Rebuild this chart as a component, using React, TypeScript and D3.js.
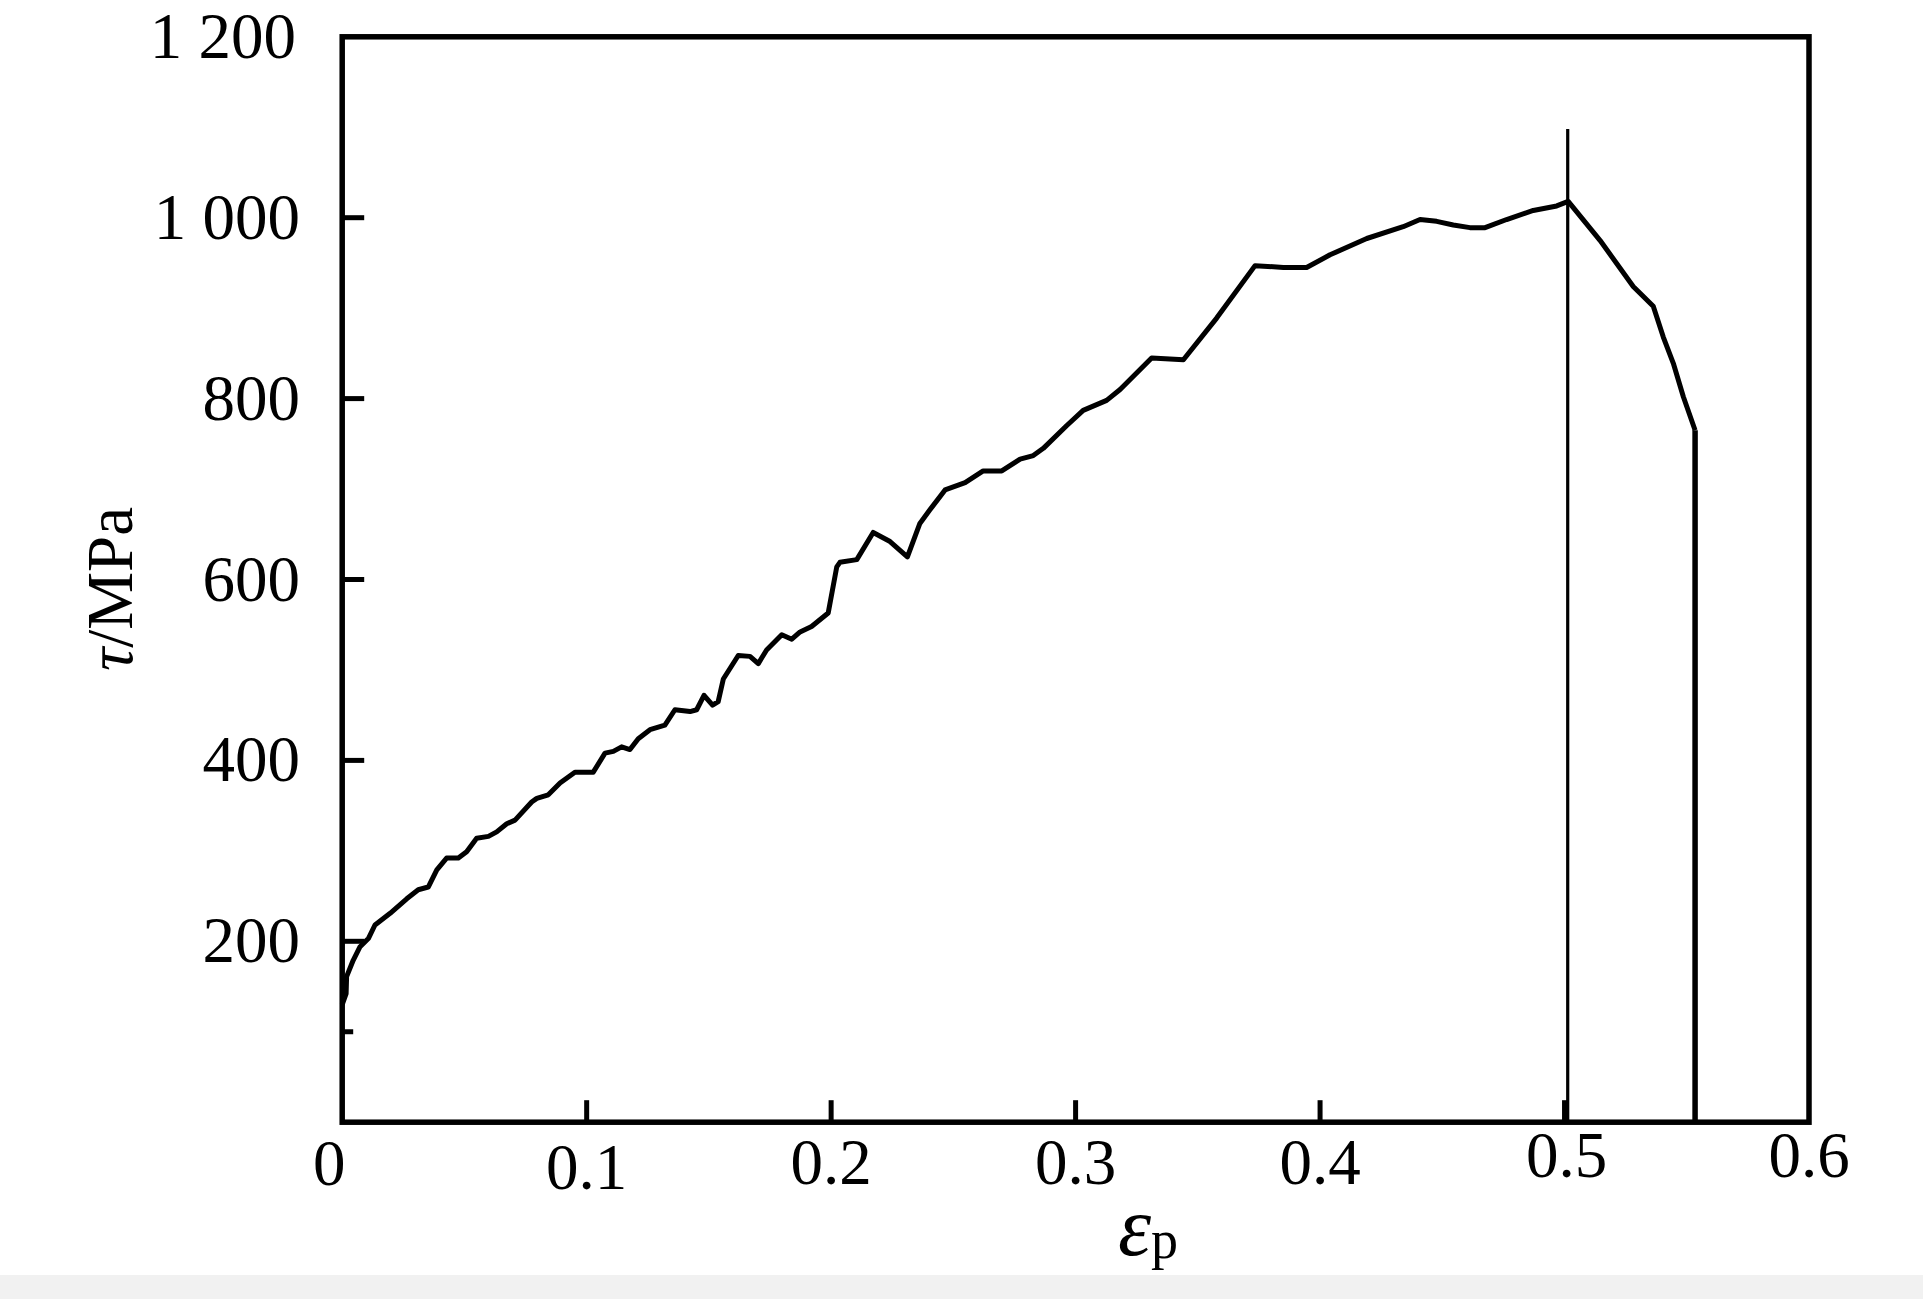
import React from "react";
import * as d3 from "d3";

// strain values (epsilon_p)
const strain: number[] = [
  0, 0.0016, 0.0018, 0.0045, 0.0073, 0.0107, 0.0134, 0.0196, 0.0264, 0.0311,
  0.0352, 0.0387, 0.0427, 0.0475, 0.0509, 0.055, 0.0598, 0.0632, 0.0673, 0.0707,
  0.0775, 0.0796, 0.0843, 0.0891, 0.0952, 0.1027, 0.1075, 0.1109, 0.1143, 0.1177,
  0.1211, 0.1259, 0.132, 0.1361, 0.1423, 0.145, 0.148, 0.1515, 0.1538, 0.1559,
  0.162, 0.1668, 0.1702, 0.1736, 0.1798, 0.1839, 0.1873, 0.192, 0.1988, 0.2023,
  0.2036, 0.2105, 0.2172, 0.2241, 0.2312, 0.2363, 0.2404, 0.2466, 0.2548, 0.2622,
  0.2698, 0.2773, 0.2827, 0.2868, 0.2963, 0.3031, 0.3127, 0.3182, 0.3311, 0.3441,
  0.3577, 0.3734, 0.385, 0.3945, 0.4041, 0.4191, 0.434, 0.4409, 0.4477, 0.4545,
  0.4613, 0.4675, 0.4763, 0.4872, 0.4968, 0.5015, 0.5145, 0.5281, 0.5363, 0.5404,
  0.5445, 0.5486, 0.5534,
];

// shear stress tau (MPa)
const stress: number[] = [
  130, 142, 161, 179, 194, 203, 218, 231, 247, 257,
  260, 279, 292, 292, 299, 314, 316, 321, 330, 334,
  354, 358, 362, 375, 387, 387, 408, 410, 415, 412,
  424, 434, 439, 456, 454, 456, 472, 461, 465, 490,
  516, 515, 507, 522, 539, 534, 542, 548, 563, 614,
  619, 622, 652, 642, 625, 662, 677, 699, 707, 720,
  720, 733, 737, 745, 770, 787, 798, 810, 845, 843,
  889, 947, 945, 945, 959, 977, 990, 998, 996, 992,
  989, 989, 998, 1008, 1013, 1018, 975, 924, 902, 868,
  839, 802, 765,
];

// final fracture drop of the curve
const dropStrain: number[] = [0.5534, 0.5534];
const dropStress: number[] = [765, 0];

// reference (failure) line near epsilon = 0.5
const markerStrain: number[] = [0.5013, 0.5013];
const markerStress: number[] = [0, 1098];

const xTickValues: number[] = [0, 0.1, 0.2, 0.3, 0.4, 0.5, 0.6];
const xTickLabels: string[] = ["0", "0.1", "0.2", "0.3", "0.4", "0.5", "0.6"];
const yTickValues: number[] = [200, 400, 600, 800, 1000, 1200];
const yTickLabels: string[] = ["200", "400", "600", "800", "1 000", "1 200"];
const yMinorTicks: number[] = [100];

const W = 1923;
const H = 1299;
const left = 342.2;
const right = 1809;
const top = 36.8;
const bottom = 1122.2;

const FONT = '"Liberation Serif", "Times New Roman", Times, serif';

// small per-label layout nudges (px) seen in the typeset original
const xLabelNudge: Record<string, [number, number]> = {
  "0": [-13, 1],
  "0.1": [0, 5],
  "0.5": [2, -7],
  "0.6": [0, -7],
};

export default function App() {
  const x = d3.scaleLinear().domain([0, 0.6]).range([left, right]);
  const y = d3.scaleLinear().domain([0, 1200]).range([bottom, top]);

  const line = d3
    .line<[number, number]>()
    .x((d) => x(d[0]))
    .y((d) => y(d[1]));

  const pts: [number, number][] = strain.map((e, i) => [e, stress[i]]);
  const dropPts: [number, number][] = dropStrain.map((e, i) => [e, dropStress[i]]);
  const markerPts: [number, number][] = markerStrain.map((e, i) => [e, markerStress[i]]);

  return (
    <>
      <style>{`body{margin:0;background:#fff}`}</style>
      <svg width={W} height={H} style={{ display: "block" }} xmlns="http://www.w3.org/2000/svg">
        <rect x={0} y={0} width={W} height={H} fill="#ffffff" />
        <rect x={0} y={1275} width={W} height={H - 1275} fill="#f1f1f1" />

        {/* data curve */}
        <path
          d={line(pts) || ""}
          fill="none"
          stroke="#000"
          strokeWidth={5}
          strokeLinejoin="round"
        />
        <path d={line(dropPts) || ""} fill="none" stroke="#000" strokeWidth={5.5} />
        {/* reference line */}
        <path d={line(markerPts) || ""} fill="none" stroke="#000" strokeWidth={3.2} />

        {/* y ticks (inward) */}
        {yTickValues
          .filter((v) => v < 1200)
          .map((v) => (
            <line key={"yt" + v} x1={left} x2={left + 22} y1={y(v)} y2={y(v)} stroke="#000" strokeWidth={5} />
          ))}
        {yMinorTicks.map((v) => (
          <line key={"ym" + v} x1={left} x2={left + 11} y1={y(v)} y2={y(v)} stroke="#000" strokeWidth={5} />
        ))}
        {/* x ticks (inward) */}
        {xTickValues
          .filter((v) => v > 0 && v < 0.6)
          .map((v) => (
            <line key={"xt" + v} x1={x(v)} x2={x(v)} y1={bottom} y2={bottom - 22} stroke="#000" strokeWidth={5} />
          ))}

        {/* frame */}
        <rect
          x={left}
          y={top}
          width={right - left}
          height={bottom - top}
          fill="none"
          stroke="#000"
          strokeWidth={5.5}
        />

        {/* y tick labels */}
        {yTickValues.map((v, i) => (
          <text
            key={"yl" + v}
            x={v === 1200 ? 296 : 300}
            y={v === 1200 ? 58 : y(v) + 21}
            textAnchor="end"
            fontFamily={FONT}
            fontSize={65}
            fill="#000"
          >
            {yTickLabels[i]}
          </text>
        ))}

        {/* x tick labels */}
        {xTickValues.map((v, i) => {
          const lab = xTickLabels[i];
          const n = xLabelNudge[lab] || [0, 0];
          return (
            <text
              key={"xl" + v}
              x={x(v) + n[0]}
              y={1184 + n[1]}
              textAnchor="middle"
              fontFamily={FONT}
              fontSize={65}
              fill="#000"
            >
              {lab}
            </text>
          );
        })}

        {/* x axis title */}
        <text x={1118} y={1255} fontFamily={FONT} fill="#000">
          <tspan fontSize={84} fontStyle="italic">ε</tspan>
          <tspan fontSize={54} dy={3}>p</tspan>
        </text>

        {/* y axis title */}
        <text
          transform={`translate(132, 589) rotate(-90)`}
          textAnchor="middle"
          fontFamily={FONT}
          fontSize={65}
          fill="#000"
        >
          <tspan fontStyle="italic">τ</tspan>
          <tspan>/MPa</tspan>
        </text>
      </svg>
    </>
  );
}
